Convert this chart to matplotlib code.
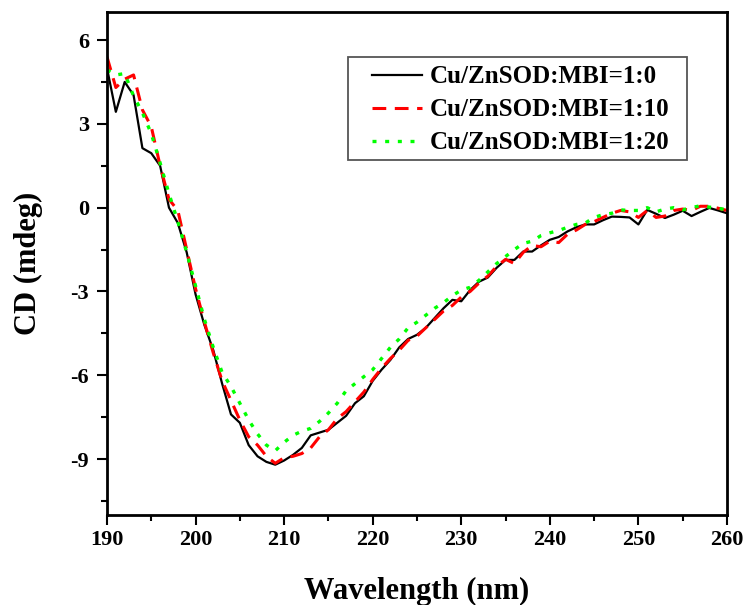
import numpy as np
import matplotlib
matplotlib.use("Agg")
import matplotlib.pyplot as plt
from matplotlib.ticker import MultipleLocator
from matplotlib.patches import Rectangle

wavelength = list(range(190, 261))

cd_1_0 = [5.0, 3.43, 4.5, 4.03, 2.13, 1.95, 1.5, 0.0, -0.55, -1.6,
          -3.1, -4.2, -5.1, -6.3, -7.4, -7.7, -8.5, -8.9, -9.1, -9.2,
          -9.05, -8.85, -8.6, -8.15, -8.05, -7.95, -7.7, -7.45, -7.0, -6.75,
          -6.2, -5.8, -5.45, -5.0, -4.7, -4.55, -4.3, -3.95, -3.6, -3.3,
          -3.35, -2.95, -2.65, -2.5, -2.15, -1.87, -1.87, -1.57, -1.57, -1.35,
          -1.15, -1.05, -0.85, -0.7, -0.6, -0.6, -0.45, -0.32, -0.33, -0.35,
          -0.6, -0.08, -0.22, -0.37, -0.25, -0.11, -0.3, -0.15, -0.01, -0.1,
          -0.2]

cd_1_10 = [5.4, 4.3, 4.6, 4.75, 3.5, 2.9, 1.5, 0.3, -0.1, -1.5,
           -2.9, -4.1, -5.2, -6.2, -6.9, -7.6, -8.2, -8.5, -8.9, -9.15,
           -8.95, -8.9, -8.8, -8.6, -8.2, -7.95, -7.55, -7.3, -6.95, -6.6,
           -6.15, -5.75, -5.4, -5.1, -4.75, -4.6, -4.3, -4.0, -3.7, -3.5,
           -3.2, -3.0, -2.7, -2.45, -2.1, -1.85, -2.0, -1.6, -1.35, -1.4,
           -1.2, -1.25, -0.95, -0.8, -0.6, -0.5, -0.35, -0.2, -0.1, -0.15,
           -0.35, -0.1, -0.35, -0.3, -0.1, -0.05, -0.1, 0.05, 0.05, -0.02,
           -0.1]

cd_1_20 = [4.93, 4.75, 4.8, 4.0, 3.4, 2.65, 1.6, 0.5, -0.5, -1.6,
           -2.8, -4.0, -5.0, -5.9, -6.4, -7.0, -7.6, -8.1, -8.5, -8.7,
           -8.4, -8.15, -8.0, -7.9, -7.65, -7.35, -7.0, -6.55, -6.3, -6.05,
           -5.8, -5.4, -5.0, -4.7, -4.3, -4.1, -3.85, -3.6, -3.4, -3.15,
           -2.95, -2.85, -2.6, -2.3, -2.0, -1.75, -1.5, -1.28, -1.2, -1.0,
           -0.9, -0.82, -0.7, -0.6, -0.55, -0.35, -0.25, -0.2, -0.08, -0.1,
           -0.1, 0.0, -0.15, -0.05, 0.0, -0.08, 0.0, 0.07, 0.02, -0.02,
           -0.08]

labels = ["Cu/ZnSOD:MBI=1:0", "Cu/ZnSOD:MBI=1:10", "Cu/ZnSOD:MBI=1:20"]

plt.rcParams['font.family'] = ['Liberation Serif', 'DejaVu Serif']
plt.rcParams['font.weight'] = 'bold'
plt.rcParams['axes.unicode_minus'] = False

fig = plt.figure(figsize=(7.45, 6.05), dpi=100)
ax = fig.add_axes([0.1436, 0.1488, 0.8322, 0.8312])

ax.plot(wavelength, cd_1_0, color='black', lw=1.6, ls='-', label=labels[0])
ax.plot(wavelength, cd_1_10, color='#ff0000', lw=2.2, ls=(0, (4.5, 2.8)), label=labels[1])
ax.plot(wavelength, cd_1_20, color='#00ff00', lw=2.4, ls=(0, (1.2, 2.6)), label=labels[2])

ax.set_xlim(190, 260)
ax.set_ylim(-11, 7)
ax.xaxis.set_major_locator(MultipleLocator(10))
ax.xaxis.set_minor_locator(MultipleLocator(5))
ax.yaxis.set_major_locator(MultipleLocator(3))
ax.yaxis.set_minor_locator(MultipleLocator(1.5))
ax.tick_params(which='both', direction='out', width=1.5, top=False, right=False)
ax.tick_params(which='major', length=7, labelsize=16)
ax.tick_params(axis='y', which='major', pad=6)
ax.tick_params(which='minor', length=4)
for s in ax.spines.values():
    s.set_linewidth(2)
for lab in ax.get_xticklabels() + ax.get_yticklabels():
    lab.set_fontweight('bold')

ax.set_xlabel('Wavelength (nm)', fontsize=22, fontweight='bold', labelpad=20)
ax.set_ylabel('CD (mdeg)', fontsize=22, fontweight='bold', labelpad=20)

# legend frame
ax.add_patch(Rectangle((0.3887, 0.7058), 0.9355 - 0.3887, 0.9105 - 0.7058,
                       transform=ax.transAxes, fill=True, facecolor='white',
                       edgecolor='#555555', lw=1.3, zorder=4))
leg = ax.legend(loc='upper left', bbox_to_anchor=(0.4274, 0.894),
                frameon=False, handlelength=2.0, handletextpad=0.3,
                borderpad=0, labelspacing=0.4, borderaxespad=0,
                prop={'weight': 'bold', 'size': 18})
leg.set_zorder(5)

fig.savefig('out.png', dpi=100)
